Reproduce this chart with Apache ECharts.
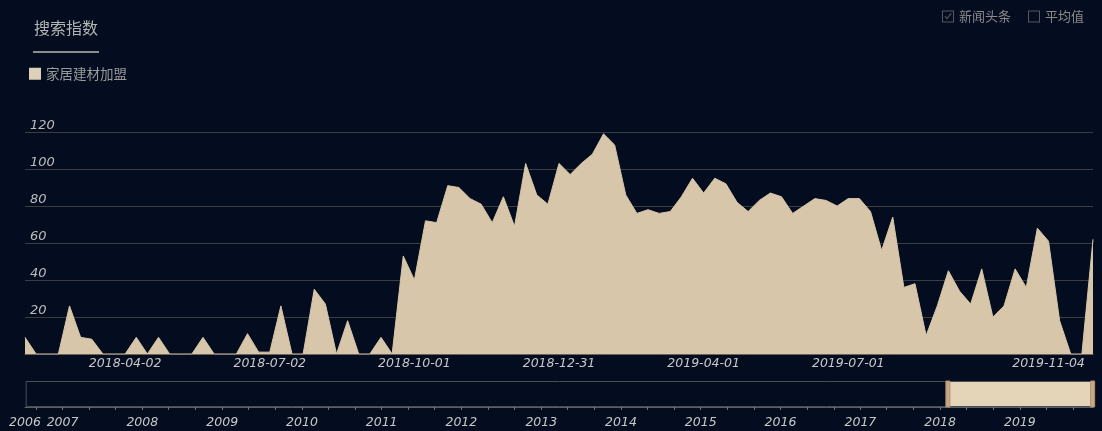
<!DOCTYPE html>
<html lang="zh">
<head>
<meta charset="UTF-8">
<title>搜索指数</title>
<style>
    html, body { margin: 0; padding: 0; background: #030d1f; }
    #main { width: 1102px; height: 431px; }
</style>
</head>
<body>
<div id="main"></div>
<script src="https://cdn.jsdelivr.net/npm/echarts@6/dist/echarts.min.js"></script>
<script>
    // 时间范围：全部数据 / 当前窗口（周数据，每周一）
    var rangeStart = '2006-07-13';
    var rangeEnd = '2019-12-02';
    var weekStart = '2018-01-29';

    var seriesName = '家居建材加盟';
    var values = [
        9, 0, 0, 0, 26, 9, 8, 0, 0, 0,
        9, 0, 9, 0, 0, 0, 9, 0, 0, 0,
        11, 1, 1, 26, 0, 0, 35, 27, 0, 18,
        0, 0, 9, 0, 53, 40, 72, 71, 91, 90,
        84, 81, 71, 85, 69, 103, 86, 81, 103, 97,
        103, 108, 119, 113, 86, 76, 78, 76, 77, 85,
        95, 87, 95, 92, 82, 77, 83, 87, 85, 76,
        80, 84, 83, 80, 84, 84, 77, 56, 74, 36,
        38, 10, 26, 45, 34, 27, 46, 20, 26, 46,
        36, 68, 61, 18, 0, 0, 62
    ];

    // 主图横轴标签
    var xLabelDates = ['2018-04-02', '2018-07-02', '2018-10-01', '2018-12-31', '2019-04-01', '2019-07-01', '2019-11-04'];
    // 缩略轴年份标签
    var yearLabelDates = [rangeStart, '2007-01-01', '2008-01-01', '2009-01-01', '2010-01-01', '2011-01-01', '2012-01-01',
        '2013-01-01', '2014-01-01', '2015-01-01', '2016-01-01', '2017-01-01', '2018-01-01', '2019-01-01'];

    var ts = function (s) {
        var p = s.split('-');
        return new Date(+p[0], +p[1] - 1, +p[2]).getTime();
    };
    var pad = function (n) { return n < 10 ? '0' + n : '' + n; };
    var fmtDay = function (v) {
        var d = new Date(v);
        return d.getFullYear() + '-' + pad(d.getMonth() + 1) + '-' + pad(d.getDate());
    };

    var data = [];
    var p0 = weekStart.split('-');
    for (var i = 0; i < values.length; i++) {
        data.push([new Date(+p0[0], +p0[1] - 1, +p0[2] + i * 7).getTime(), values[i]]);
    }

    // 缩略轴刻度：每 4 个月一个
    var tickDates = [];
    for (var y = 2006; y <= 2019; y++) {
        [0, 4, 8].forEach(function (m) {
            var t = new Date(y, m, 1).getTime();
            if (t >= ts(rangeStart) && t <= ts(rangeEnd)) tickDates.push(t);
        });
    }

    var numFont = 'DejaVu Sans';
    var cjkFont = 'Noto Sans CJK SC';

    var chart = echarts.init(document.getElementById('main'));
    var option = {
        backgroundColor: '#030d1f',
        animation: false,
        title: {
            text: '搜索指数',
            left: 34,
            top: 20,
            padding: 0,
            textStyle: { color: '#b5b5b5', fontSize: 16, fontWeight: 'normal', fontFamily: cjkFont }
        },
        graphic: [{
            type: 'rect',
            left: 33,
            top: 51,
            shape: { width: 66, height: 2 },
            style: { fill: '#8c8c8c' }
        }],
        legend: [{
            left: 29,
            top: 67,
            padding: 0,
            itemWidth: 12,
            itemHeight: 12,
            icon: 'rect',
            data: [seriesName],
            textStyle: { color: '#9a9a9a', fontSize: 13.5, fontFamily: cjkFont }
        }, {
            left: 942,
            top: 10,
            padding: 0,
            itemGap: 17,
            itemWidth: 12,
            itemHeight: 12,
            data: [
                { name: '新闻头条', icon: 'path://M0,0H24V24H0Z M2,2V22H22V2Z M5,12L7,10.5L10,14.5L17.5,5L19.5,6.5L10,18Z' },
                { name: '平均值', icon: 'path://M0,0H24V24H0Z M2,2V22H22V2Z' }
            ],
            textStyle: { color: '#8a8a8a', fontSize: 13, fontFamily: cjkFont }
        }],
        grid: [
            { left: 25, right: 9, top: 132, height: 222 },
            { left: 25, right: 9, top: 381, height: 26 }
        ],
        xAxis: [{
            type: 'value',
            gridIndex: 0,
            min: ts(rangeStart),
            max: ts(rangeEnd),
            axisLine: { show: true, onZero: false, lineStyle: { color: '#6b645b' } },
            axisTick: { show: false },
            splitLine: { show: false },
            axisLabel: {
                customValues: xLabelDates.map(ts),
                formatter: fmtDay,
                color: '#c8c8c8',
                fontStyle: 'italic',
                fontFamily: numFont,
                fontSize: 12.5,
                margin: 3
            }
        }, {
            type: 'value',
            gridIndex: 1,
            min: ts(rangeStart),
            max: ts(rangeEnd),
            axisLine: { show: true, onZero: false, lineStyle: { color: '#5a5d63' } },
            axisTick: { show: true, customValues: tickDates, length: 3, lineStyle: { color: '#777' } },
            splitLine: { show: false },
            axisLabel: {
                customValues: yearLabelDates.map(ts),
                formatter: function (v) { return '' + new Date(v).getFullYear(); },
                color: '#c8c8c8',
                fontStyle: 'italic',
                fontFamily: numFont,
                fontSize: 12.5,
                margin: 9
            }
        }],
        yAxis: [{
            type: 'value',
            gridIndex: 0,
            min: 0,
            max: 120,
            interval: 20,
            axisLine: { show: false },
            axisTick: { show: false },
            splitLine: { lineStyle: { color: '#3a3d42' } },
            axisLabel: {
                inside: true,
                margin: 5,
                verticalAlign: 'bottom',
                color: '#bdbdbd',
                fontStyle: 'italic',
                fontFamily: numFont,
                fontSize: 13,
                formatter: function (v) { return v === 0 ? '' : v; }
            }
        }, {
            type: 'value',
            gridIndex: 1,
            show: false
        }],
        dataZoom: [{
            type: 'slider',
            xAxisIndex: 0,
            startValue: ts(weekStart),
            endValue: ts(rangeEnd),
            left: 25,
            right: 9,
            top: 381,
            height: 26,
            showDetail: false,
            showDataShadow: false,
            brushSelect: false,
            borderColor: '#4a4e55',
            borderRadius: 0,
            backgroundColor: 'rgba(0,0,0,0)',
            fillerColor: '#e4d4b8',
            handleIcon: 'path://M0,0H4V26H0Z',
            handleSize: '100%',
            handleStyle: { color: '#c9a888', borderColor: '#b2906f', borderWidth: 1 },
            moveHandleSize: 0
        }],
        series: [{
            name: seriesName,
            type: 'line',
            xAxisIndex: 0,
            yAxisIndex: 0,
            showSymbol: false,
            symbol: 'none',
            itemStyle: { color: '#ddd0b9' },
            lineStyle: { color: '#d7c6a9', width: 1 },
            areaStyle: { color: '#d7c6a9', opacity: 1 },
            data: data
        }, {
            name: '新闻头条',
            type: 'line',
            itemStyle: { color: '#55585e' },
            data: []
        }, {
            name: '平均值',
            type: 'line',
            itemStyle: { color: '#55585e' },
            data: []
        }]
    };
    chart.setOption(option);
</script>
</body>
</html>
